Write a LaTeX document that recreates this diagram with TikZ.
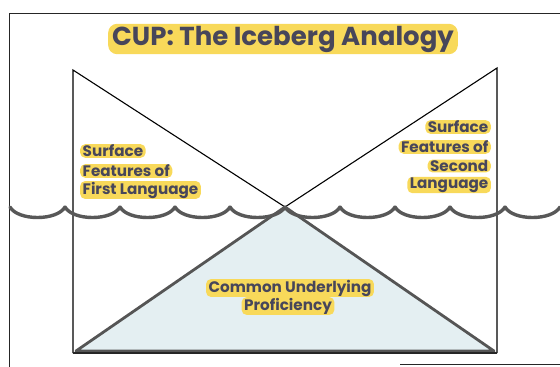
\documentclass[tikz,border=0pt]{standalone}
\usepackage{fontspec}
\setmainfont{Poppins}
\definecolor{ink}{HTML}{47465A}
\definecolor{hlyellow}{HTML}{F8D95A}
\definecolor{icefill}{HTML}{E4EFF2}
\definecolor{iceline}{HTML}{555555}
\definecolor{waveline}{HTML}{585858}
\begin{document}
\begin{tikzpicture}[x=1pt,y=-1pt,
  hl/.style={fill=hlyellow, rounded corners=5pt, inner xsep=2.5pt, inner ysep=0.8pt, text=ink,
             font=\bfseries\fontsize{15.2}{17}\selectfont},
  titlebox/.style={hl, rounded corners=9pt, inner xsep=4pt, inner ysep=2pt,
             font=\bfseries\fontsize{26}{30}\selectfont},
  thin/.style={draw=black, line width=1.1pt},
  frame/.style={draw=black!85, line width=1pt},
  ice/.style={fill=icefill, draw=iceline, line width=2.8pt, line join=round},
  wave/.style={draw=waveline, line width=3.4pt, line cap=round}]
\useasboundingbox (0,0) rectangle (560,367);
% outer frame
\draw[frame] (9,367) -- (9,13) -- (560,13);
\draw[frame] (400,364) -- (560,364);
% coordinates
\coordinate (tl) at (73,70);
\coordinate (tr) at (497,68);
\coordinate (bl) at (73,353);
\coordinate (br) at (497,353);
\coordinate (x) at (285,207);
% underlying triangle
\draw[ice] (x) -- (76,351) -- (494,351) -- cycle;
% inner rectangle sides and surface triangles
\draw[thin] (bl) -- (tl) -- (x) -- (tr) -- (br);
\draw[draw=black!85, line width=1.8pt] (bl) -- (br);
% water surface
\foreach \s in {10,65,...,505} {
  \draw[wave] (\s,207) .. controls (\s+8,221) and (\s+47,221) .. (\s+55,207);
}
% title
\node[titlebox] (title) at (283,39) {CUP: The Iceberg Analogy};
% left label
\node[hl, anchor=west] (l1) at (80,151) {Surface};
\node[hl, anchor=west] (l2) at (80,171) {Features of};
\node[hl, anchor=west] (l3) at (80,190) {First Language};
% right label
\node[hl, anchor=east] (r1) at (491,127) {Surface};
\node[hl, anchor=east] (r2) at (491,147) {Features of};
\node[hl, anchor=east] (r3) at (491,166) {Second};
\node[hl, anchor=east] (r4) at (491,185) {Language};
% bottom label
\node[hl] (c1) at (290,288) {Common Underlying};
\node[hl] (c2) at (288,306) {Proficiency};
\end{tikzpicture}
\end{document}
